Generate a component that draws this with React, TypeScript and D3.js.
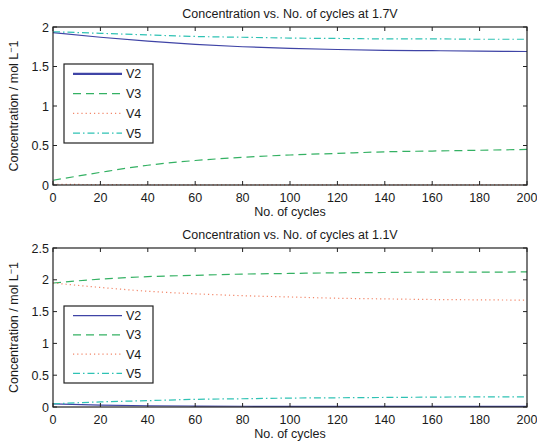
import React from "react";
import * as d3 from "d3";

const cycles = [0, 20, 40, 60, 80, 100, 120, 140, 160, 180, 200];

// 1.7V charge
const hiV2 = [1.93, 1.87, 1.82, 1.78, 1.75, 1.73, 1.715, 1.705, 1.7, 1.695, 1.69];
const hiV3 = [0.06, 0.16, 0.25, 0.31, 0.35, 0.38, 0.4, 0.42, 0.43, 0.44, 0.45];
const hiV4 = [0.01, 0.005, 0.003, 0.002, 0.001, 0.001, 0.001, 0.001, 0.001, 0.001, 0.001];
const hiV5 = [1.94, 1.92, 1.9, 1.88, 1.87, 1.86, 1.855, 1.85, 1.85, 1.845, 1.845];

// 1.1V discharge
const loV2 = [0.05, 0.03, 0.02, 0.015, 0.012, 0.01, 0.01, 0.01, 0.01, 0.01, 0.01];
const loV3 = [1.95, 2.01, 2.05, 2.07, 2.09, 2.1, 2.11, 2.115, 2.12, 2.12, 2.125];
const loV4 = [1.95, 1.88, 1.82, 1.78, 1.75, 1.73, 1.71, 1.7, 1.69, 1.685, 1.68];
const loV5 = [0.05, 0.08, 0.1, 0.12, 0.13, 0.14, 0.145, 0.15, 0.155, 0.16, 0.16];

const seriesNames = ["V2", "V3", "V4", "V5"];
const xTicks = [0, 20, 40, 60, 80, 100, 120, 140, 160, 180, 200];
const yTicksHi = [0, 0.5, 1, 1.5, 2];
const yTicksLo = [0, 0.5, 1, 1.5, 2, 2.5];

const colors = ["#3f44a6", "#34b163", "#f2876a", "#2fc2b4"];
const dashes = ["none", "8,5", "1.2,3", "7,3,1.5,3"];
const font = "'Liberation Sans', Arial, sans-serif";
const fs = 12.5;

type PanelProps = {
  top: number;
  bottom: number;
  yMax: number;
  yTicks: number[];
  title: string;
  data: number[][];
  legendTop: number;
  legendBottom: number;
  v2Legend: number;
};

const left = 53;
const right = 527;

function Panel({ top, bottom, yMax, yTicks, title, data, legendTop, legendBottom, v2Legend }: PanelProps) {
  const x = d3.scaleLinear().domain([0, 200]).range([left, right]);
  const y = d3.scaleLinear().domain([0, yMax]).range([bottom, top]);
  const line = d3
    .line<number>()
    .x((_, i) => x(cycles[i]))
    .y((d) => y(d))
    .curve(d3.curveMonotoneX);
  const tick = 4;
  const rowH = (legendBottom - legendTop) / 4;
  return (
    <g fontFamily={font} fill="#1a1a1a">
      <text x={(left + right) / 2} y={top - 9} textAnchor="middle" fontSize={fs}>
        {title}
      </text>
      {data.map((s, i) => (
        <path
          key={i}
          d={line(s) || ""}
          fill="none"
          stroke={colors[i]}
          strokeWidth={1.2}
          strokeDasharray={dashes[i]}
        />
      ))}
      <rect x={left} y={top} width={right - left} height={bottom - top} fill="none" stroke="#222" strokeWidth={1.2} />
      {xTicks.map((t) => (
        <g key={"x" + t}>
          <line x1={x(t)} x2={x(t)} y1={bottom} y2={bottom - tick} stroke="#222" />
          <line x1={x(t)} x2={x(t)} y1={top} y2={top + tick} stroke="#222" />
          <text x={x(t)} y={bottom + 17} textAnchor="middle" fontSize={fs}>
            {t}
          </text>
        </g>
      ))}
      {yTicks.map((t) => (
        <g key={"y" + t}>
          <line x1={left} x2={left + tick} y1={y(t)} y2={y(t)} stroke="#222" />
          <line x1={right} x2={right - tick} y1={y(t)} y2={y(t)} stroke="#222" />
          <text x={left - 4} y={y(t) + 4.5} textAnchor="end" fontSize={fs}>
            {t}
          </text>
        </g>
      ))}
      <text x={(left + right) / 2} y={bottom + 31} textAnchor="middle" fontSize={fs}>
        No. of cycles
      </text>
      <text
        transform={`translate(18,${(top + bottom) / 2}) rotate(-90)`}
        textAnchor="middle"
        fontSize={fs}
      >
        Concentration / mol L
        <tspan dy={-4} fontSize={9}>−</tspan>
        <tspan dy={4}>1</tspan>
      </text>
      <rect
        x={64}
        y={legendTop}
        width={89}
        height={legendBottom - legendTop}
        fill="#fff"
        stroke="#222"
        strokeWidth={1.2}
      />
      {seriesNames.map((n, i) => {
        const ly = legendTop + rowH * (i + 0.5);
        return (
          <g key={n}>
            <line
              x1={73}
              x2={122}
              y1={ly}
              y2={ly}
              stroke={colors[i]}
              strokeWidth={i === 0 ? v2Legend : 1.2}
              strokeDasharray={dashes[i]}
            />
            <text x={126} y={ly + 4.5} fontSize={fs}>
              {n}
            </text>
          </g>
        );
      })}
    </g>
  );
}

export default function App() {
  return (
    <svg
      width={537}
      height={444}
      style={{ position: "absolute", left: 0, top: 0, background: "#fff" }}
    >
      <Panel
        top={27}
        bottom={185}
        yMax={2}
        yTicks={yTicksHi}
        title="Concentration vs. No. of cycles at 1.7V"
        data={[hiV2, hiV3, hiV4, hiV5]}
        legendTop={64}
        legendBottom={143}
        v2Legend={2.2}
      />
      <Panel
        top={248}
        bottom={407}
        yMax={2.5}
        yTicks={yTicksLo}
        title="Concentration vs. No. of cycles at 1.1V"
        data={[loV2, loV3, loV4, loV5]}
        legendTop={306}
        legendBottom={383}
        v2Legend={1.2}
      />
    </svg>
  );
}
